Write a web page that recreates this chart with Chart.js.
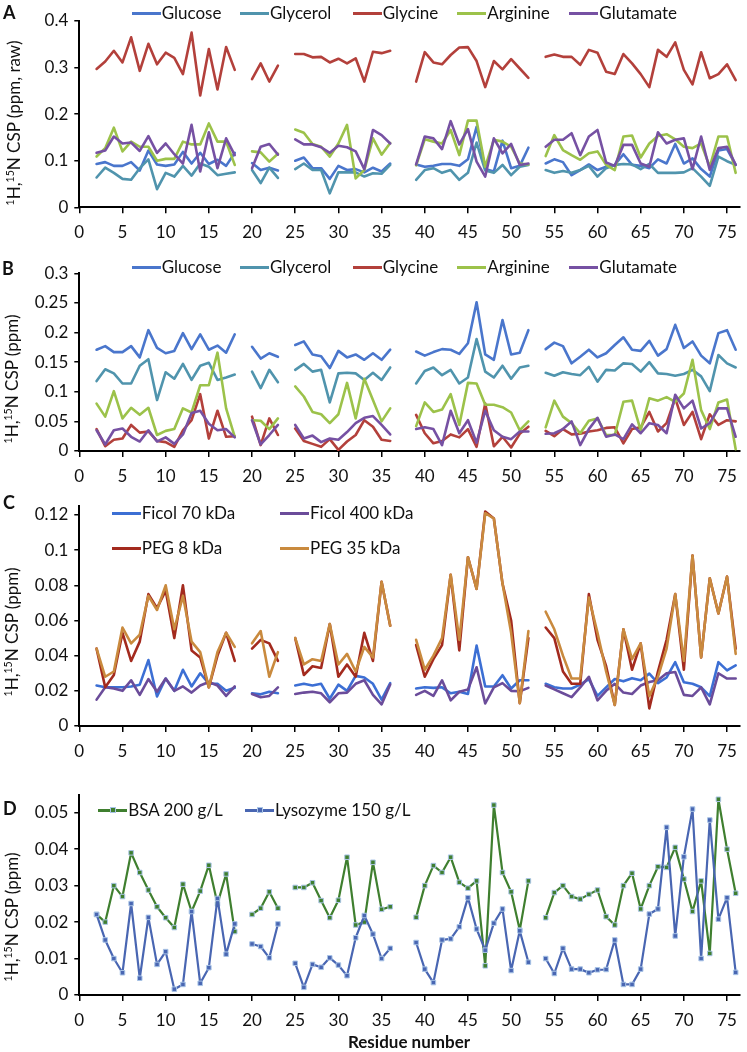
<!DOCTYPE html>
<html><head><meta charset="utf-8">
<script src="https://cdn.jsdelivr.net/npm/chart.js@4.4.0/dist/chart.umd.min.js"></script>
<style>
html,body{margin:0;padding:0;background:#fff}
body{width:747px;height:1052px;position:relative;overflow:hidden;font-family:Lato,"Open Sans",sans-serif;color:#111}
canvas{position:absolute;left:0}
.lg{position:absolute;font-size:17px;line-height:18px;white-space:nowrap;transform:translateY(-50%)}
.lg i{display:inline-block;width:29px;height:3px;vertical-align:middle;margin-right:1px;position:relative;top:-1px}
.lg i b{position:absolute;left:11.5px;top:-1.5px;width:4px;height:4px;border:1px solid #A9C4E6}
.yt{position:absolute;font-size:17px;line-height:18px;white-space:nowrap;transform:translate(-50%,-50%) rotate(-90deg)}
.yt sup{font-size:0.62em;vertical-align:0.55em;line-height:0}
.pl{position:absolute;font-size:18px;font-weight:bold;line-height:18px;transform:translateY(-50%)}
.xt{position:absolute;font-size:17px;font-weight:bold;white-space:nowrap;transform:translate(-50%,-50%)}
</style>
</head><body>
<canvas id="cA" width="747" height="245" style="top:0px"></canvas>
<canvas id="cB" width="747" height="245" style="top:245px"></canvas>
<canvas id="cC" width="747" height="275" style="top:490px"></canvas>
<canvas id="cD" width="747" height="287" style="top:765px"></canvas>

<div class="pl" style="left:3px;top:12px">A</div>
<div class="pl" style="left:2px;top:268px">B</div>
<div class="pl" style="left:3px;top:502px">C</div>
<div class="pl" style="left:3px;top:808px">D</div>

<div class="yt" style="left:14px;top:123px"><sup>1</sup>H,<sup>15</sup>N CSP (ppm, raw)</div>
<div class="yt" style="left:12px;top:379px"><sup>1</sup>H,<sup>15</sup>N CSP (ppm)</div>
<div class="yt" style="left:12px;top:632px"><sup>1</sup>H,<sup>15</sup>N CSP (ppm)</div>
<div class="yt" style="left:12px;top:917px"><sup>1</sup>H,<sup>15</sup>N CSP (ppm)</div>
<div class="xt" style="left:409px;top:1041px">Residue number</div>

<div class="lg" style="left:131.7px;top:12.7px"><i style="background:#4A76CC"></i>Glucose</div>
<div class="lg" style="left:240px;top:12.7px"><i style="background:#5094AD"></i>Glycerol</div>
<div class="lg" style="left:352.7px;top:12.7px"><i style="background:#B3403B"></i>Glycine</div>
<div class="lg" style="left:457.3px;top:12.7px"><i style="background:#9CC24A"></i>Arginine</div>
<div class="lg" style="left:569.3px;top:12.7px"><i style="background:#7651A3"></i>Glutamate</div>

<div class="lg" style="left:131.7px;top:267.3px"><i style="background:#4A76CC"></i>Glucose</div>
<div class="lg" style="left:240px;top:267.3px"><i style="background:#5094AD"></i>Glycerol</div>
<div class="lg" style="left:352.7px;top:267.3px"><i style="background:#B3403B"></i>Glycine</div>
<div class="lg" style="left:457.3px;top:267.3px"><i style="background:#9CC24A"></i>Arginine</div>
<div class="lg" style="left:569.3px;top:267.3px"><i style="background:#7651A3"></i>Glutamate</div>

<div class="lg" style="left:111.7px;top:513.3px"><i style="background:#3C6FD4"></i>Ficol 70 kDa</div>
<div class="lg" style="left:280px;top:513.3px"><i style="background:#6B4C9A"></i>Ficol 400 kDa</div>
<div class="lg" style="left:111.7px;top:548.3px"><i style="background:#A32A1E"></i>PEG 8 kDa</div>
<div class="lg" style="left:280px;top:548.3px"><i style="background:#C98A3E"></i>PEG 35 kDa</div>

<div class="lg" style="left:98.3px;top:809.5px"><i style="background:#3F7F2F"><b style="background:#3F7F2F"></b></i>BSA 200 g/L</div>
<div class="lg" style="left:245px;top:809.5px"><i style="background:#4966B2"><b style="background:#4966B2"></b></i>Lysozyme 150 g/L</div>

<script>
// ---- categories / ticks ----
const residues = [2,3,4,5,6,7,8,9,10,11,12,13,14,15,16,17,18,19,20,21,22,23,24,25,26,27,28,29,30,31,32,33,34,35,36,37,38,39,40,41,42,43,44,45,46,47,48,49,50,51,52,53,54,55,56,57,58,59,60,61,62,63,64,65,66,67,68,69,70,71,72,73,74,75,76];
const xTicks = [0,5,10,15,20,25,30,35,40,45,50,55,60,65,70,75];
const yTicksA = [0,0.1,0.2,0.3,0.4];
const yTicksB = [0,0.05,0.1,0.15,0.2,0.25,0.3];
const yTicksC = [0,0.02,0.04,0.06,0.08,0.1,0.12];
const yTicksD = [0,0.01,0.02,0.03,0.04,0.05];

// ---- Panel A (raw) ----
const glucoseA = [0.093,0.097,0.089,0.089,0.097,0.079,0.122,0.092,0.089,0.092,0.119,0.094,0.117,0.093,0.102,0.089,0.117, null, 0.095,0.080,0.085,0.079, null, 0.100,0.107,0.084,0.084,0.061,0.089,0.080,0.082,0.075,0.085,0.077,0.094, null,null, 0.092,0.087,0.089,0.093,0.093,0.089,0.103,0.173,0.082,0.077,0.143,0.084,0.089,0.128, null, 0.094,0.103,0.097,0.069,0.080,0.092,0.080,0.087,0.091,0.114,0.091,0.089,0.084,0.103,0.094,0.136,0.094,0.105,0.082,0.066,0.122,0.125,0.091];
const glycerolA = [0.064,0.085,0.074,0.061,0.059,0.084,0.103,0.039,0.074,0.066,0.089,0.068,0.094,0.087,0.069,0.072,0.075, null, 0.080,0.052,0.085,0.063, null, 0.082,0.094,0.080,0.080,0.030,0.075,0.075,0.075,0.066,0.073,0.072,0.091, null,null, 0.059,0.080,0.084,0.074,0.080,0.059,0.074,0.139,0.079,0.074,0.091,0.069,0.087,0.091, null, 0.080,0.074,0.078,0.074,0.080,0.089,0.066,0.084,0.091,0.093,0.092,0.082,0.093,0.074,0.074,0.074,0.075,0.084,0.066,0.046,0.109,0.099,0.091];
const glycineA = [0.297,0.313,0.336,0.311,0.365,0.293,0.351,0.307,0.332,0.321,0.286,0.375,0.240,0.340,0.253,0.344,0.295, null, 0.275,0.309,0.270,0.304, null, 0.329,0.329,0.322,0.323,0.311,0.319,0.309,0.320,0.270,0.334,0.331,0.336, null,null, 0.270,0.333,0.311,0.307,0.327,0.343,0.344,0.314,0.258,0.314,0.296,0.318,0.298,0.278, null, 0.323,0.328,0.323,0.323,0.306,0.338,0.332,0.291,0.286,0.329,0.309,0.286,0.258,0.338,0.323,0.354,0.295,0.264,0.333,0.277,0.286,0.307,0.273];
const arginineA = [0.109,0.127,0.171,0.120,0.141,0.130,0.130,0.100,0.104,0.104,0.141,0.135,0.135,0.180,0.141,0.141,0.091, null, 0.120,0.118,0.098,0.115, null, 0.167,0.160,0.136,0.130,0.109,0.137,0.177,0.062,0.080,0.148,0.113,0.138, null,null, 0.090,0.146,0.141,0.137,0.166,0.112,0.186,0.186,0.087,0.145,0.141,0.130,0.094,0.092, null, 0.110,0.155,0.123,0.112,0.102,0.116,0.120,0.091,0.080,0.152,0.154,0.107,0.137,0.153,0.157,0.146,0.130,0.127,0.137,0.087,0.152,0.152,0.074];
const glutamateA = [0.117,0.122,0.152,0.137,0.139,0.121,0.153,0.117,0.137,0.114,0.094,0.177,0.077,0.161,0.084,0.148,0.112, null, 0.084,0.130,0.136,0.113, null, 0.146,0.135,0.135,0.129,0.117,0.132,0.129,0.120,0.082,0.166,0.155,0.137, null,null, 0.092,0.152,0.148,0.125,0.185,0.135,0.168,0.098,0.066,0.148,0.116,0.136,0.091,0.094, null, 0.130,0.145,0.145,0.159,0.112,0.152,0.166,0.096,0.089,0.134,0.134,0.094,0.087,0.161,0.137,0.145,0.148,0.082,0.152,0.080,0.127,0.130,0.091];

// ---- Panel B ----
const glucoseB = [0.171,0.177,0.167,0.167,0.177,0.158,0.204,0.174,0.165,0.169,0.199,0.172,0.197,0.171,0.178,0.166,0.197, null, 0.176,0.156,0.165,0.159, null, 0.179,0.185,0.163,0.160,0.140,0.169,0.158,0.163,0.154,0.165,0.154,0.171, null,null, 0.168,0.161,0.167,0.172,0.171,0.164,0.182,0.251,0.163,0.154,0.221,0.163,0.166,0.204, null, 0.172,0.183,0.177,0.148,0.159,0.171,0.158,0.165,0.179,0.192,0.171,0.169,0.186,0.161,0.172,0.213,0.174,0.185,0.161,0.148,0.199,0.204,0.171];
const glycerolB = [0.118,0.138,0.131,0.114,0.114,0.144,0.155,0.086,0.133,0.122,0.147,0.120,0.144,0.149,0.120,0.124,0.129, null, 0.134,0.106,0.137,0.116, null, 0.137,0.147,0.134,0.137,0.082,0.131,0.132,0.131,0.120,0.132,0.120,0.141, null,null, 0.114,0.135,0.141,0.128,0.137,0.114,0.124,0.189,0.134,0.124,0.144,0.122,0.141,0.144, null, 0.132,0.127,0.133,0.130,0.128,0.142,0.117,0.137,0.136,0.148,0.147,0.134,0.150,0.131,0.130,0.127,0.130,0.137,0.126,0.101,0.162,0.148,0.141];
const glycineB = [0.037,0.008,0.019,0.021,0.044,0.031,0.033,0.017,0.015,0.007,0.035,0.052,0.096,0.021,0.068,0.024,0.025, null, 0.058,0.010,0.055,0.027, null, 0.038,0.017,0.012,0.007,0.020,0.002,0.016,0.027,0.052,0.041,0.019,0.017, null,null, 0.061,0.030,0.013,0.017,0.028,0.023,0.037,0.007,0.080,0.008,0.024,0.006,0.029,0.041, null, 0.034,0.025,0.037,0.028,0.029,0.033,0.035,0.039,0.040,0.013,0.037,0.040,0.066,0.033,0.047,0.089,0.044,0.066,0.020,0.062,0.044,0.052,0.050];
const arginineB = [0.080,0.058,0.101,0.055,0.073,0.061,0.073,0.027,0.034,0.037,0.072,0.065,0.111,0.111,0.166,0.072,0.024, null, 0.052,0.051,0.037,0.055, null, 0.109,0.092,0.066,0.062,0.047,0.062,0.115,0.055,0.122,0.086,0.050,0.072, null,null, 0.042,0.082,0.066,0.070,0.096,0.044,0.115,0.114,0.078,0.078,0.074,0.065,0.035,0.050, null, 0.040,0.085,0.058,0.047,0.030,0.051,0.055,0.027,0.027,0.083,0.085,0.035,0.089,0.085,0.091,0.083,0.097,0.154,0.069,0.037,0.082,0.087,0.003];
const glutamateB = [0.035,0.011,0.035,0.038,0.024,0.016,0.035,0.016,0.023,0.012,0.028,0.064,0.068,0.046,0.035,0.037,0.023, null, 0.052,0.011,0.027,0.044, null, 0.044,0.021,0.026,0.015,0.021,0.019,0.032,0.047,0.056,0.059,0.044,0.028, null,null, 0.037,0.040,0.037,0.010,0.068,0.030,0.052,0.014,0.068,0.035,0.024,0.020,0.033,0.033, null, 0.029,0.030,0.037,0.050,0.010,0.037,0.056,0.024,0.028,0.020,0.045,0.030,0.047,0.044,0.030,0.095,0.072,0.085,0.038,0.047,0.072,0.072,0.024];

// ---- Panel C ----
const ficol70 = [0.023,0.022,0.022,0.022,0.0225,0.0235,0.0375,0.0168,0.027,0.020,0.032,0.0225,0.030,0.024,0.024,0.020,0.0217, null, 0.0186,0.018,0.0195,0.0186, null, 0.023,0.024,0.023,0.024,0.0155,0.0235,0.020,0.0285,0.0276,0.024,0.015,0.0244, null,null, 0.0213,0.022,0.0217,0.022,0.0186,0.0195,0.0182,0.0457,0.0225,0.0225,0.0289,0.0213,0.026,0.026, null, 0.024,0.022,0.0213,0.0213,0.0235,0.0267,0.0171,0.022,0.0267,0.0254,0.0272,0.026,0.0298,0.0244,0.0276,0.0363,0.0249,0.024,0.022,0.017,0.0363,0.0316,0.0345];
const ficol400 = [0.015,0.022,0.0213,0.020,0.026,0.0177,0.0267,0.0195,0.027,0.020,0.0225,0.019,0.023,0.025,0.023,0.0171,0.0225, null, 0.0182,0.0164,0.0171,0.022, null, 0.0182,0.019,0.0195,0.0186,0.0135,0.0186,0.019,0.024,0.026,0.0177,0.0123,0.0236, null,null, 0.0177,0.020,0.0171,0.026,0.0146,0.0195,0.0208,0.0334,0.0128,0.022,0.0244,0.020,0.0198,0.0217, null, 0.023,0.0208,0.0186,0.0164,0.022,0.028,0.0146,0.020,0.024,0.019,0.0182,0.023,0.025,0.026,0.030,0.0307,0.0177,0.0171,0.022,0.0123,0.030,0.027,0.027];
const peg8 = [0.044,0.022,0.029,0.053,0.037,0.048,0.075,0.067,0.077,0.050,0.080,0.043,0.039,0.022,0.040,0.053,0.037, null, 0.044,0.049,0.047,0.037, null, 0.050,0.029,0.034,0.033,0.058,0.028,0.035,0.028,0.053,0.037,0.082,0.057, null,null, 0.046,0.028,0.038,0.046,0.086,0.043,0.096,0.078,0.122,0.118,0.081,0.060,0.013,0.050, null, 0.056,0.050,0.031,0.024,0.024,0.075,0.049,0.034,0.012,0.055,0.032,0.047,0.010,0.031,0.049,0.075,0.032,0.097,0.039,0.084,0.064,0.085,0.044];
const peg35 = [0.044,0.028,0.031,0.056,0.047,0.052,0.074,0.066,0.080,0.055,0.074,0.048,0.042,0.022,0.042,0.053,0.045, null, 0.047,0.054,0.028,0.042, null, 0.050,0.035,0.038,0.037,0.058,0.035,0.041,0.031,0.045,0.039,0.082,0.057, null,null, 0.049,0.032,0.040,0.050,0.086,0.049,0.096,0.078,0.121,0.118,0.081,0.053,0.013,0.054, null, 0.065,0.055,0.040,0.027,0.027,0.073,0.053,0.031,0.012,0.055,0.038,0.047,0.017,0.028,0.044,0.075,0.037,0.097,0.039,0.084,0.064,0.085,0.041];

// ---- Panel D ----
const bsa = [0.0221,0.020,0.030,0.027,0.039,0.0336,0.0288,0.0242,0.0212,0.0185,0.0304,0.0229,0.0285,0.0356,0.025,0.0332,0.0174, null, 0.0221,0.0238,0.0283,0.0238, null, 0.0295,0.0295,0.0308,0.0259,0.0212,0.026,0.0378,0.0192,0.020,0.0364,0.0235,0.0242, null,null, 0.0213,0.030,0.0355,0.0336,0.0378,0.0309,0.0293,0.0313,0.008,0.0521,0.0336,0.0283,0.0178,0.0313, null, 0.0212,0.0281,0.030,0.027,0.0263,0.0276,0.0288,0.0215,0.0192,0.030,0.0334,0.0236,0.030,0.0352,0.035,0.0405,0.0318,0.0229,0.0313,0.0114,0.0537,0.040,0.0279];
const lysozyme = [0.0221,0.0151,0.010,0.0061,0.0251,0.0046,0.0213,0.0084,0.0119,0.0016,0.0029,0.0229,0.0032,0.0075,0.0265,0.0112,0.0195, null, 0.014,0.0133,0.0102,0.0195, null, 0.0087,0.0021,0.0084,0.0076,0.0102,0.0082,0.0053,0.0157,0.0218,0.0167,0.010,0.0128, null,null, 0.0144,0.0071,0.0034,0.0151,0.0154,0.0187,0.0267,0.0181,0.0123,0.0197,0.0236,0.0067,0.0176,0.009, null, 0.010,0.0059,0.0128,0.0071,0.0071,0.0061,0.0069,0.007,0.0151,0.0029,0.0029,0.0071,0.0222,0.0236,0.046,0.0162,0.0379,0.051,0.010,0.048,0.0208,0.0267,0.0062];

// ---- chart construction ----
Chart.defaults.font.family = 'Lato, "Open Sans", sans-serif';
Chart.defaults.font.size = 17;
Chart.defaults.color = '#111';

function pts(series){ return residues.map((r,i)=>({x:r, y:series[i]})); }

function line(label, series, color, order, extra){
  return Object.assign({
    label, data: pts(series), borderColor: color, backgroundColor: color,
    borderWidth: 2.6, pointRadius: 0, pointHoverRadius: 0, tension: 0,
    spanGaps: false, fill: false, order,
    borderCapStyle: 'round', borderJoinStyle: 'round'
  }, extra || {});
}

function fmt(v){ return String(Math.round(v*1000)/1000); }

function makeChart(id, padTop, xHeight, yMax, yTicks, datasets){
  return new Chart(document.getElementById(id), {
    type: 'line',
    data: { datasets },
    options: {
      responsive: false, animation: false, devicePixelRatio: 1,
      layout: { padding: { top: padTop, left: 0, right: 7, bottom: 0 } },
      plugins: { legend: { display: false }, tooltip: { enabled: false } },
      scales: {
        x: {
          type: 'linear', min: 0, max: 76.5,
          afterBuildTicks: s => { s.ticks = xTicks.map(v => ({ value: v })); },
          afterFit: s => { s.height = xHeight; },
          grid: { display: true, drawOnChartArea: false, drawTicks: true, tickLength: 6, color: '#000', lineWidth: 1.5 },
          border: { display: true, color: '#000', width: 2 },
          ticks: { padding: 9, maxRotation: 0, autoSkip: false, color: '#111', callback: v => String(v) }
        },
        y: {
          type: 'linear', min: 0, max: yMax,
          afterBuildTicks: s => { s.ticks = yTicks.map(v => ({ value: v })); },
          afterFit: s => { s.width = 79.3; },
          grid: { display: true, drawOnChartArea: false, drawTicks: true, tickLength: 5, color: '#000', lineWidth: 1.5 },
          border: { display: true, color: '#000', width: 2 },
          ticks: { padding: 6, autoSkip: false, color: '#111', callback: v => fmt(v) }
        }
      }
    }
  });
}

const C_GLU = '#4A76CC', C_GLY = '#5094AD', C_GCN = '#B3403B', C_ARG = '#9CC24A', C_GLT = '#7651A3';

makeChart('cA', 21, 37.7, 0.4, yTicksA, [
  line('Glucose', glucoseA, C_GLU, 5),
  line('Glycerol', glycerolA, C_GLY, 4),
  line('Glycine', glycineA, C_GCN, 3),
  line('Arginine', arginineA, C_ARG, 2),
  line('Glutamate', glutamateA, C_GLT, 1)
]);

makeChart('cB', 28.3, 39, 0.3, yTicksB, [
  line('Glucose', glucoseB, C_GLU, 5),
  line('Glycerol', glycerolB, C_GLY, 4),
  line('Glycine', glycineB, C_GCN, 3),
  line('Arginine', arginineB, C_ARG, 2),
  line('Glutamate', glutamateB, C_GLT, 1)
]);

makeChart('cC', 5.1, 39, 0.125, yTicksC, [
  line('Ficol 70 kDa', ficol70, '#3C6FD4', 4),
  line('Ficol 400 kDa', ficol400, '#6B4C9A', 3),
  line('PEG 8 kDa', peg8, '#A32A1E', 2),
  line('PEG 35 kDa', peg35, '#C98A3E', 1)
]);

makeChart('cD', 29.5, 57, 0.055, yTicksD, [
  line('BSA 200 g/L', bsa, '#3F7F2F', 2, { borderWidth: 2.2, pointRadius: 3.2, pointStyle: 'rect', pointBackgroundColor: '#3F7F2F', pointBorderColor: '#A9C4E6', pointBorderWidth: 1 }),
  line('Lysozyme 150 g/L', lysozyme, '#4966B2', 1, { borderWidth: 2.2, pointRadius: 3.2, pointStyle: 'rect', pointBackgroundColor: '#4966B2', pointBorderColor: '#A9C4E6', pointBorderWidth: 1 })
]);
</script>
</body></html>
